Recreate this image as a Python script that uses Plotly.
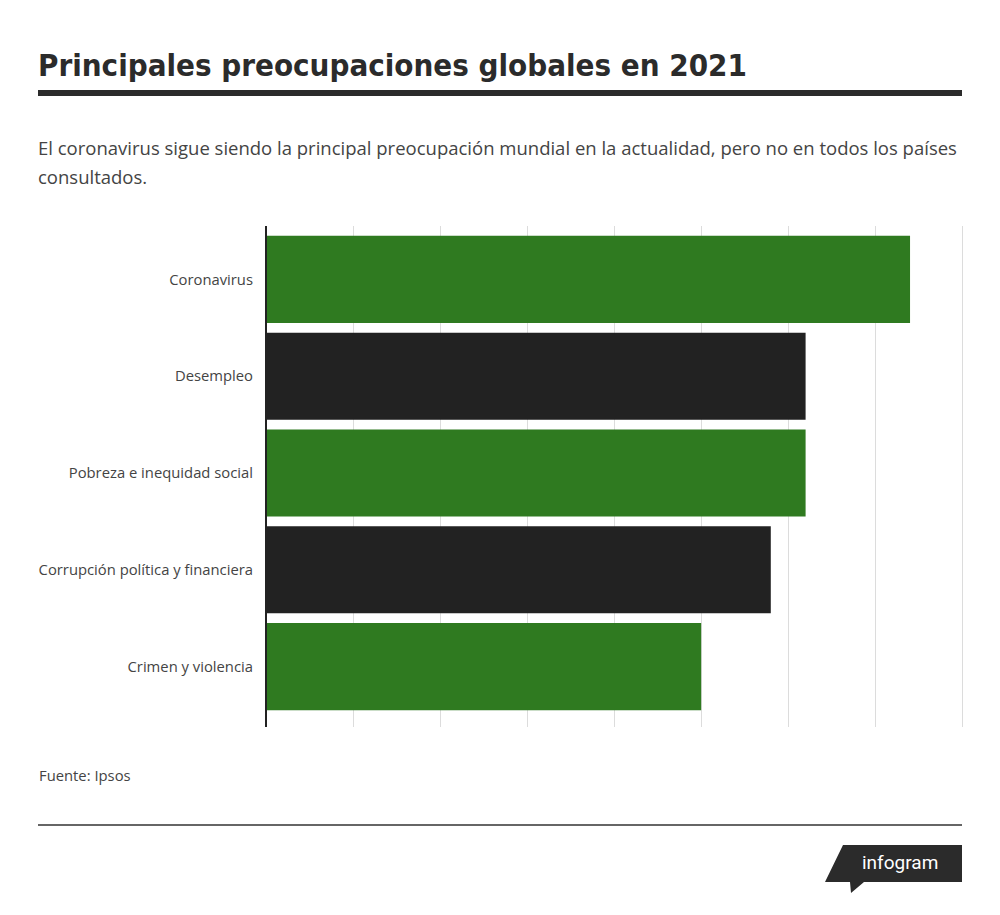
import plotly.graph_objects as go

categories = ["Coronavirus", "Desempleo", "Pobreza e inequidad social",
              "Corrupción política y financiera", "Crimen y violencia"]
values = [37, 31, 31, 29, 25]
bar_colors = ["#2f7a20", "#222222", "#2f7a20", "#222222", "#2f7a20"]

title = "Principales preocupaciones globales en 2021"
subtitle_1 = ("El coronavirus sigue siendo la principal preocupación mundial en la actualidad, "
              "pero no en todos los países")
subtitle_2 = "consultados."
source = "Fuente: Ipsos"

# page has an 8px body margin, so the figure is shifted by OFF
OFF = 8
W, H = 1000 - 2 * OFF, 915 - 2 * OFF
L, R, T, B = 266, 964, 226, 727   # plot area in screen pixels


def px(x):
    return (x - L) / (R - L)


def py(y):
    return (B - y) / (B - T)


bars = go.Bar(x=values, y=categories, orientation="h",
              marker=dict(color=bar_colors, line=dict(width=0)),
              hoverinfo="x+y")

layout = go.Layout(
    width=W, height=H,
    margin=dict(l=L - OFF, r=W - (R - OFF), t=T - OFF, b=H - (B - OFF)),
    paper_bgcolor="white", plot_bgcolor="white",
    showlegend=False,
    bargap=0.1,
    font=dict(family="Open Sans, sans-serif", color="#444444"),
    xaxis=dict(range=[0, 40.1], dtick=5, showticklabels=False, showgrid=True,
               gridcolor="#dcdcdc", gridwidth=1, zeroline=False, showline=False,
               fixedrange=True),
    yaxis=dict(autorange=False, range=[4.624, -0.552], showgrid=False,
               zeroline=False, showline=False, ticks="", ticklabelstandoff=12,
               tickfont=dict(size=14.8, color="#444444"), fixedrange=True),
)

fig = go.Figure(data=[bars], layout=layout)

# vertical axis line at x=0
fig.add_shape(type="line", xref="paper", yref="paper", x0=0, x1=0, y0=0, y1=1,
              line=dict(color="#222222", width=2))

# title and rule
fig.add_annotation(text="<b>" + title + "</b>", xref="paper", yref="paper",
                   x=px(36), y=py(65), xanchor="left", yanchor="middle", showarrow=False,
                   font=dict(family="DejaVu Sans Condensed, sans-serif",
                             size=31, color="#2b2b2b"))
fig.add_shape(type="rect", xref="paper", yref="paper", x0=px(38), x1=px(962),
              y0=py(96), y1=py(90), fillcolor="#2b2b2b", line=dict(width=0))

# subtitle
fig.add_annotation(text=subtitle_1, xref="paper", yref="paper", x=px(36), y=py(147),
                   xanchor="left", yanchor="middle", showarrow=False,
                   font=dict(size=18.5, color="#444444"))
fig.add_annotation(text=subtitle_2, xref="paper", yref="paper", x=px(36), y=py(176),
                   xanchor="left", yanchor="middle", showarrow=False,
                   font=dict(size=18.5, color="#444444"))

# source
fig.add_annotation(text=source, xref="paper", yref="paper", x=px(37), y=py(775),
                   xanchor="left", yanchor="middle", showarrow=False,
                   font=dict(size=14.8, color="#444444"))

# bottom rule
fig.add_shape(type="line", xref="paper", yref="paper", x0=px(38), x1=px(962),
              y0=py(825), y1=py(825), line=dict(color="#333333", width=1.5))

# infogram badge
pts = [(843, 845), (962, 845), (962, 882), (864, 882), (851, 893), (850, 882), (825, 882)]
path = "M " + " L ".join(f"{px(a):.5f},{py(b):.5f}" for a, b in pts) + " Z"
fig.add_shape(type="path", xref="paper", yref="paper", path=path,
              fillcolor="#2b2b2b", line=dict(width=0))
fig.add_annotation(text="infogram", xref="paper", yref="paper", x=px(900), y=py(862),
                   xanchor="center", yanchor="middle", showarrow=False,
                   font=dict(family="Roboto, sans-serif", size=19, color="white"))

fig.write_html("out.html")
